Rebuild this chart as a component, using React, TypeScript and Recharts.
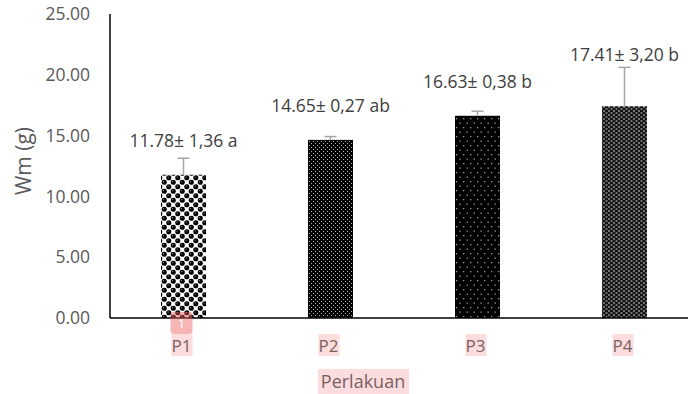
import React from "react";
import { BarChart, Bar, XAxis, YAxis } from "recharts";

const categories = ["P1", "P2", "P3", "P4"];
const means = [11.78, 14.65, 16.63, 17.41];
const sds = [1.36, 0.27, 0.38, 3.2];
const sdLabels = ["1,36", "0,27", "0,38", "3,20"];
const letters = ["a", "ab", "b", "b"];
const yTicks = [0, 5, 10, 15, 20, 25];

const data = categories.map((c, i) => ({
  category: c,
  value: means[i],
  err: sds[i],
  label: `${means[i].toFixed(2)}\u00b1 ${sdLabels[i]} ${letters[i]}`,
}));

const patternIds = ["pat1", "pat2", "pat3", "pat4"];
const FONT = "'Open Sans', sans-serif";

const BarShape = (props: any) => {
  const { x, y, width, height, index, payload } = props;
  const k = height / payload.value;
  const errTop = y - payload.err * k;
  const cx = x + width / 2;
  const labelY = Math.min(y - 35, errTop - 13);
  return (
    <g>
      <rect x={x} y={y} width={width} height={height} fill={`url(#${patternIds[index]})`} />
      <line x1={cx} x2={cx} y1={y} y2={errTop} stroke="#a6a6a6" strokeWidth={1.5} />
      <line x1={cx - 6} x2={cx + 6} y1={errTop} y2={errTop} stroke="#a6a6a6" strokeWidth={1.5} />
      <text x={cx} y={labelY} textAnchor="middle" dominantBaseline="central" fill="#404040" fontSize={17.5} fontFamily={FONT}>
        {payload.label}
      </text>
    </g>
  );
};

const XTick = (props: any) => {
  const { x, payload, index } = props;
  const ty = 345;
  return (
    <g>
      {index === 0 && (
        <g>
          <rect x={x - 13} y={312} width={22} height={22} rx={3} fill="rgba(240,90,90,0.45)" />
          <text x={x - 2} y={323} textAnchor="middle" dominantBaseline="central" fill="#ffffff" fontSize={13} fontFamily={FONT}>1</text>
        </g>
      )}
      <rect x={x - 12} y={ty - 11} width={21} height={22} fill="#fcdcdc" />
      <text x={x - 2} y={ty} textAnchor="middle" dominantBaseline="central" fill="#7a6262" fontSize={17} fontFamily={FONT}>
        {payload.value}
      </text>
    </g>
  );
};

export default function App() {
  return (
    <div style={{ position: "absolute", left: 0, top: 0, width: 688, height: 394, overflow: "hidden", background: "#fff" }}>
      <svg width={0} height={0} style={{ position: "absolute" }}>
        <defs>
          <pattern id="pat1" width={9} height={9} patternUnits="userSpaceOnUse">
            <rect width={9} height={9} fill="#ffffff" />
            <circle cx={2.25} cy={2.25} r={2.55} fill="#000" />
            <circle cx={6.75} cy={6.75} r={2.55} fill="#000" />
            <circle cx={11.25} cy={2.25} r={2.55} fill="#000" />
            <circle cx={-2.25} cy={6.75} r={2.55} fill="#000" />
            <circle cx={2.25} cy={11.25} r={2.55} fill="#000" />
            <circle cx={-2.25} cy={-2.25} r={2.55} fill="#000" />
            <circle cx={6.75} cy={-2.25} r={2.55} fill="#000" />
            <circle cx={1.6} cy={1.6} r={0.6} fill="#999" />
            <circle cx={6.1} cy={6.1} r={0.6} fill="#999" />
          </pattern>
          <pattern id="pat2" width={4} height={4} patternUnits="userSpaceOnUse">
            <rect width={4} height={4} fill="#000" />
            <rect x={1} y={1} width={1} height={1} fill="#b8b8b8" />
            <rect x={3} y={3} width={1} height={1} fill="#b8b8b8" />
          </pattern>
          <pattern id="pat3" width={7} height={9} patternUnits="userSpaceOnUse">
            <rect width={7} height={9} fill="#000" />
            <rect x={1} y={1} width={1.3} height={1.3} fill="#9a9a9a" />
            <rect x={4.5} y={5.5} width={1.3} height={1.3} fill="#9a9a9a" />
          </pattern>
          <pattern id="pat4" width={5} height={4} patternUnits="userSpaceOnUse">
            <rect width={5} height={4} fill="#111" />
            <rect x={0.5} y={0.5} width={2} height={1} fill="#d8d8d8" />
            <rect x={3} y={2.5} width={2} height={1} fill="#d8d8d8" />
          </pattern>
        </defs>
      </svg>
      <BarChart width={700} height={394} data={data} margin={{ top: 14, right: 2, left: 0, bottom: 0 }} barCategoryGap="0%">
        <YAxis
          width={110}
          domain={[0, 25]}
          ticks={yTicks}
          interval={0}
          tickFormatter={(v: number) => v.toFixed(2)}
          axisLine={{ stroke: "#000", strokeWidth: 1.5 }}
          tickLine={false}
          tickMargin={14}
          tick={{ fill: "#595959", fontSize: 17.5, fontFamily: FONT }}
          label={{
            content: () => (
              <text x={23} y={161} transform="rotate(-90 23 161)" textAnchor="middle" dominantBaseline="central" fill="#595959" fontSize={21} fontFamily={FONT}>
                Wm (g)
              </text>
            ),
          }}
        />
        <XAxis
          dataKey="category"
          height={76}
          axisLine={{ stroke: "#000", strokeWidth: 1.5 }}
          tickLine={false}
          tick={<XTick />}
          interval={0}
          label={{
            content: () => (
              <g>
                <rect x={318} y={369} width={91} height={25} fill="#fcdcdc" />
                <text x={363} y={381} textAnchor="middle" dominantBaseline="central" fill="#7a6262" fontSize={18} fontFamily={FONT}>
                  Perlakuan
                </text>
              </g>
            ),
          }}
        />
        <Bar dataKey="value" barSize={45} isAnimationActive={false} shape={<BarShape />} />
      </BarChart>
    </div>
  );
}
